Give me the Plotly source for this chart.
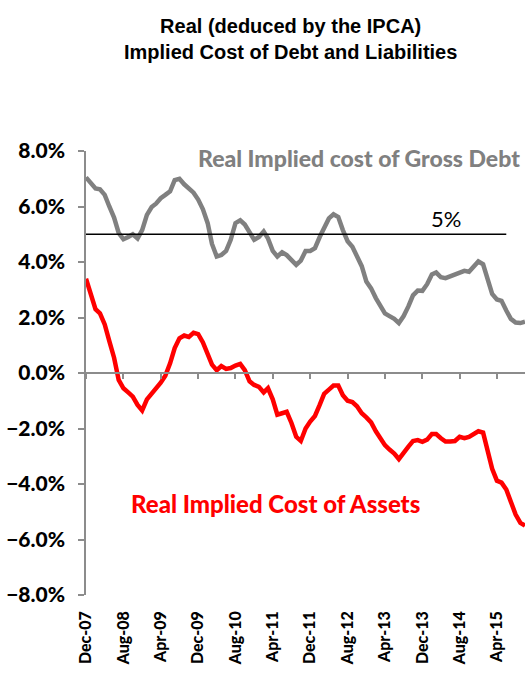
import pandas as pd
import plotly.graph_objects as go

# Monthly observations, Dec-2007 onwards (real rates, % p.a.)
start_month = "2007-12-01"

gross_debt = [
    7.05, 6.85, 6.65, 6.62, 6.42, 6.00, 5.60, 5.05, 4.82, 4.90,
    5.00, 4.85, 5.15, 5.70, 5.98, 6.10, 6.30, 6.42, 6.55, 6.95,
    7.00, 6.80, 6.65, 6.50, 6.25, 5.90, 5.40, 4.65, 4.20, 4.25,
    4.40, 4.80, 5.40, 5.50, 5.35, 5.10, 4.80, 4.90, 5.10, 4.85,
    4.40, 4.20, 4.35, 4.25, 4.05, 3.90, 4.05, 4.40, 4.40, 4.50,
    4.90, 5.21, 5.57, 5.72, 5.62, 5.15, 4.75, 4.55, 4.20, 3.85,
    3.30, 3.05, 2.70, 2.40, 2.15, 2.05, 1.95, 1.80, 2.05, 2.40,
    2.80, 2.97, 2.96, 3.20, 3.55, 3.62, 3.45, 3.42, 3.48, 3.55,
    3.62, 3.68, 3.65, 3.85, 4.02, 3.92, 3.35, 2.85, 2.65, 2.60,
    2.25, 1.95, 1.82, 1.80, 1.85,
]

assets = [
    3.40, 2.90, 2.30, 2.15, 1.75, 1.15, 0.55, -0.25, -0.55, -0.70,
    -0.85, -1.15, -1.35, -0.95, -0.75, -0.60, -0.35, -0.10, 0.35, 0.90,
    1.25, 1.35, 1.30, 1.45, 1.40, 1.10, 0.65, 0.30, 0.10, 0.25,
    0.15, 0.18, 0.27, 0.33, 0.10, -0.30, -0.43, -0.50, -0.70, -0.55,
    -0.95, -1.50, -1.45, -1.40, -1.80, -2.30, -2.45, -2.00, -1.75, -1.55,
    -1.15, -0.75, -0.60, -0.45, -0.45, -0.80, -1.00, -1.05, -1.20, -1.45,
    -1.60, -1.78, -2.10, -2.35, -2.60, -2.76, -2.90, -3.10, -2.85, -2.65,
    -2.45, -2.42, -2.48, -2.40, -2.20, -2.20, -2.35, -2.47, -2.47, -2.45,
    -2.30, -2.35, -2.30, -2.18, -2.10, -2.15, -2.80, -3.45, -3.88, -3.95,
    -4.20, -4.60, -5.10, -5.40, -5.50,
]

threshold = 5.0
threshold_label = "5%"
threshold_end_month = "2015-06-01"

months = pd.date_range(start_month, periods=len(gross_debt), freq="MS")

title_lines = ["Real (deduced by the IPCA)", "Implied Cost of Debt and Liabilities"]
debt_label = "Real Implied cost of Gross Debt"
assets_label = "Real Implied Cost of Assets"

GRAY = "#808080"
RED = "#FF0000"
AXIS = "#8C8C8C"
LABEL_FONT = "Lato"

fig = go.Figure()

fig.add_trace(go.Scatter(
    x=months, y=gross_debt, mode="lines",
    line=dict(color=GRAY, width=4.5), name=debt_label, showlegend=False,
))
fig.add_trace(go.Scatter(
    x=months, y=assets, mode="lines",
    line=dict(color=RED, width=4.5), name=assets_label, showlegend=False,
))
# 5% reference line (drawn on the overlay axis that also carries the zero line)
fig.add_trace(go.Scatter(
    x=[months[0], pd.Timestamp(threshold_end_month)], y=[threshold, threshold],
    mode="lines", line=dict(color="black", width=1.5),
    xaxis="x2", yaxis="y", showlegend=False, hoverinfo="skip",
))

x_range = [months[0], months[-1]]

fig.update_layout(
    width=532, height=675,
    margin=dict(l=86, r=7, t=151, b=80),
    paper_bgcolor="white", plot_bgcolor="white",
    showlegend=False,
    xaxis=dict(
        type="date", range=x_range,
        tick0=months[0], dtick="M8", tickformat="%b-%y",
        tickangle=-90, ticks="", showline=False, showgrid=False, zeroline=False,
        ticklabelstandoff=12,
        tickfont=dict(family=LABEL_FONT, size=16, color="black", weight=900),
    ),
    xaxis2=dict(
        type="date", range=x_range, overlaying="x", anchor="free", position=0.5,
        side="bottom",
        tick0=months[0], dtick="M8",
        showticklabels=False, ticks="outside", ticklen=5, tickwidth=1.5,
        tickcolor=AXIS, showline=True, linecolor=AXIS, linewidth=1.5,
        showgrid=False, zeroline=False,
    ),
    yaxis=dict(
        range=[-8, 8], dtick=2, tickformat=".1f", ticksuffix="%",
        ticks="outside", ticklen=6, tickwidth=1.5, tickcolor=AXIS,
        showline=True, linecolor=AXIS, linewidth=1.5,
        showgrid=False, zeroline=False, ticklabelstandoff=9,
        tickfont=dict(family=LABEL_FONT, size=21, color="black", weight=900),
    ),
    annotations=[
        dict(text="<br>".join(title_lines), xref="paper", yref="paper",
             x=0.465, y=1.31, xanchor="center", yanchor="top", showarrow=False,
             font=dict(family="Liberation Sans, Arial", size=20, color="black", weight="bold")),
        dict(text=debt_label, xref="paper", yref="paper", x=0.622, y=0.984,
             xanchor="center", yanchor="middle", showarrow=False,
             font=dict(family=LABEL_FONT, size=23, color=GRAY, weight=900)),
        dict(text=assets_label, xref="paper", yref="paper", x=0.432, y=0.205,
             xanchor="center", yanchor="middle", showarrow=False,
             font=dict(family=LABEL_FONT, size=24, color=RED, weight=900)),
        dict(text=threshold_label, xref="paper", yref="paper", x=0.82, y=0.847,
             xanchor="center", yanchor="middle", showarrow=False,
             font=dict(family=LABEL_FONT, size=22, color="black")),
    ],
)

fig.write_html("out.html")
